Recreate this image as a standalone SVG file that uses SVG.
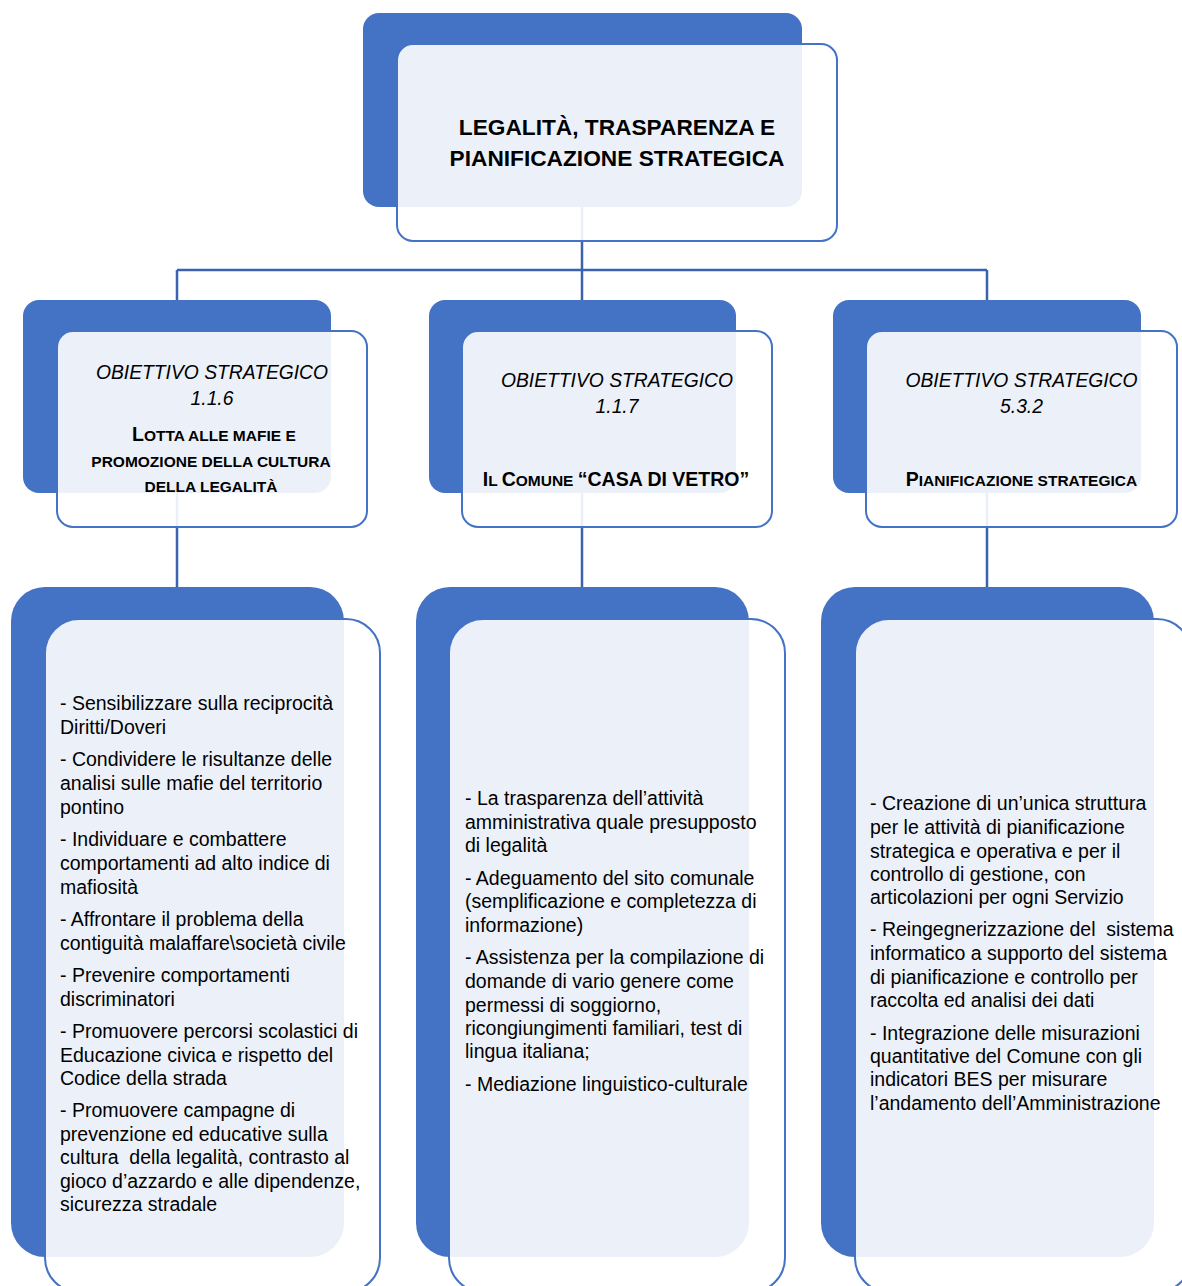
<svg xmlns="http://www.w3.org/2000/svg" width="1182" height="1286" viewBox="0 0 1182 1286">
<style>
.back{fill:#4472C4}
.front{fill:#fff;fill-opacity:0.9;stroke:#4472C4;stroke-width:2}
.conn{stroke:#3A62AE;stroke-width:2.5;fill:none}
text{font-family:"Liberation Sans",Arial,sans-serif;fill:#000;white-space:pre}
.title{font-weight:bold;font-size:22.7px;text-anchor:middle}
.obj{font-style:italic;font-size:19.3px;text-anchor:middle}
.sub{font-weight:bold;font-size:15.5px;text-anchor:middle}
.big{font-size:19.5px}
.body{font-size:19.5px}
</style>
<g id="connectors">
<path class="conn" d="M582 207 V270 M177 270 H987 M177 270 V300 M582 270 V300 M987 270 V300"/>
<path class="conn" d="M177 493 V587 M582 493 V587 M987 493 V587"/>
</g>
<g id="node-top">
<rect class="back" x="363" y="13" width="439" height="194" rx="16"/>
<rect class="front" x="397" y="44" width="440" height="197" rx="16"/>
<text class="title" x="617" y="135">LEGALITÀ, TRASPARENZA E</text>
<text class="title" x="617" y="166">PIANIFICAZIONE STRATEGICA</text>
</g>
<g id="node-obj-116">
<rect class="back" x="23" y="300" width="308" height="193" rx="16"/>
<rect class="front" x="57" y="331" width="310" height="196" rx="16"/>
<text class="obj" x="212" y="379">OBIETTIVO STRATEGICO</text>
<text class="obj" x="212" y="405">1.1.6</text>
<text class="sub" x="216" y="441"><tspan class="big">L</tspan>OTTA ALLE MAFIE E </text>
<text class="sub" x="211" y="467">PROMOZIONE DELLA CULTURA</text>
<text class="sub" x="211" y="492">DELLA LEGALITÀ</text>
</g>
<g id="node-obj-117">
<rect class="back" x="429" y="300" width="307" height="193" rx="16"/>
<rect class="front" x="462" y="331" width="310" height="196" rx="16"/>
<text class="obj" x="617" y="387">OBIETTIVO STRATEGICO</text>
<text class="obj" x="617" y="413">1.1.7</text>
<text class="sub" x="616" y="486"><tspan class="big">I</tspan>L <tspan class="big">C</tspan>OMUNE <tspan class="big">“CASA DI VETRO”</tspan></text>
</g>
<g id="node-obj-532">
<rect class="back" x="833" y="300" width="308" height="193" rx="16"/>
<rect class="front" x="866" y="331" width="311" height="196" rx="16"/>
<text class="obj" x="1021.5" y="387">OBIETTIVO STRATEGICO</text>
<text class="obj" x="1021.5" y="413">5.3.2</text>
<text class="sub" x="1021.5" y="486"><tspan class="big">P</tspan>IANIFICAZIONE STRATEGICA</text>
</g>
<g id="node-list-1">
<rect class="back" x="11" y="587" width="333" height="670" rx="34"/>
<rect class="front" x="45" y="619" width="335" height="673" rx="34"/>
<text class="body" x="60">
<tspan x="60" y="710">- Sensibilizzare sulla reciprocità</tspan>
<tspan x="60" y="734">Diritti/Doveri</tspan>
<tspan x="60" y="766">- Condividere le risultanze delle</tspan>
<tspan x="60" y="790">analisi sulle mafie del territorio</tspan>
<tspan x="60" y="814">pontino</tspan>
<tspan x="60" y="846">- Individuare e combattere</tspan>
<tspan x="60" y="870">comportamenti ad alto indice di</tspan>
<tspan x="60" y="894">mafiosità</tspan>
<tspan x="60" y="926">- Affrontare il problema della</tspan>
<tspan x="60" y="950">contiguità malaffare\società civile</tspan>
<tspan x="60" y="982">- Prevenire comportamenti</tspan>
<tspan x="60" y="1006">discriminatori</tspan>
<tspan x="60" y="1038">- Promuovere percorsi scolastici di</tspan>
<tspan x="60" y="1062">Educazione civica e rispetto del</tspan>
<tspan x="60" y="1085">Codice della strada</tspan>
<tspan x="60" y="1117">- Promuovere campagne di</tspan>
<tspan x="60" y="1141">prevenzione ed educative sulla</tspan>
<tspan x="60" y="1164">cultura  della legalità, contrasto al</tspan>
<tspan x="60" y="1188">gioco d’azzardo e alle dipendenze,</tspan>
<tspan x="60" y="1211">sicurezza stradale</tspan>
</text>
</g>
<g id="node-list-2">
<rect class="back" x="416" y="587" width="333" height="670" rx="34"/>
<rect class="front" x="449" y="619" width="336" height="673" rx="34"/>
<text class="body" x="465">
<tspan x="465" y="805">- La trasparenza dell’attività</tspan>
<tspan x="465" y="829">amministrativa quale presupposto</tspan>
<tspan x="465" y="852">di legalità</tspan>
<tspan x="465" y="885">- Adeguamento del sito comunale</tspan>
<tspan x="465" y="908">(semplificazione e completezza di</tspan>
<tspan x="465" y="932">informazione)</tspan>
<tspan x="465" y="964">- Assistenza per la compilazione di</tspan>
<tspan x="465" y="988">domande di vario genere come</tspan>
<tspan x="465" y="1012">permessi di soggiorno,</tspan>
<tspan x="465" y="1035">ricongiungimenti familiari, test di</tspan>
<tspan x="465" y="1058">lingua italiana;</tspan>
<tspan x="465" y="1091">- Mediazione linguistico-culturale</tspan>
</text>
</g>
<g id="node-list-3">
<rect class="back" x="821" y="587" width="333" height="670" rx="34"/>
<rect class="front" x="855" y="619" width="336" height="673" rx="34"/>
<text class="body" x="870">
<tspan x="870" y="810">- Creazione di un’unica struttura</tspan>
<tspan x="870" y="834">per le attività di pianificazione</tspan>
<tspan x="870" y="858">strategica e operativa e per il</tspan>
<tspan x="870" y="881">controllo di gestione, con</tspan>
<tspan x="870" y="904">articolazioni per ogni Servizio</tspan>
<tspan x="870" y="936">- Reingegnerizzazione del  sistema</tspan>
<tspan x="870" y="960">informatico a supporto del sistema</tspan>
<tspan x="870" y="984">di pianificazione e controllo per</tspan>
<tspan x="870" y="1007">raccolta ed analisi dei dati</tspan>
<tspan x="870" y="1040">- Integrazione delle misurazioni</tspan>
<tspan x="870" y="1063">quantitative del Comune con gli</tspan>
<tspan x="870" y="1086">indicatori BES per misurare</tspan>
<tspan x="870" y="1110">l’andamento dell’Amministrazione</tspan>
</text>
</g>
</svg>
